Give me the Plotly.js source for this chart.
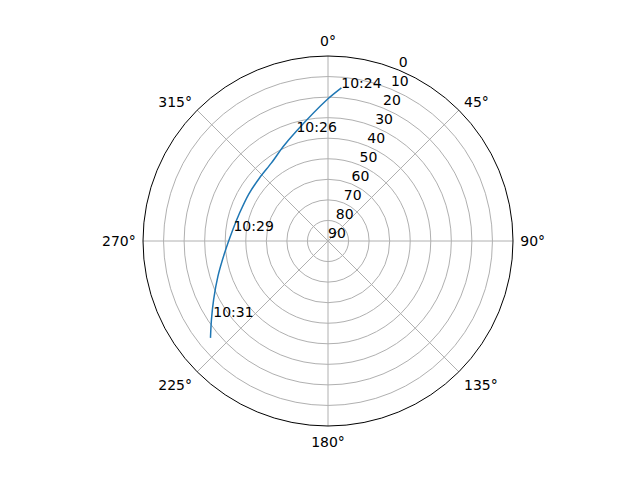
<!DOCTYPE html>
<html>
<head>
<meta charset="utf-8">
<script src="https://cdn.plot.ly/plotly-3.0.1.min.js"></script>
<style>
  html, body { margin: 0; padding: 0; background: #fff; }
  #plot { width: 640px; height: 480px; }
</style>
</head>
<body>
<div id="plot"></div>
<script>
// satellite track: azimuth (deg), elevation (deg)
const trackAz = [5.0, 0, 343.9, 334.5, 324.1, 312.8, 300.5, 287.7, 276.9, 263.5, 252.3, 242.9, 236.0, 230.5];
const trackEl = [15.2, 20.8, 34.4, 39.2, 43.1, 44.7, 45.2, 44.9, 43.4, 39.4, 33.8, 27.5, 21.6, 15.9];

// time marks along the track
const labelTimes = ['10:24', '10:26', '10:29', '10:31'];
const labelAz = [5.1, 343.4, 273.8, 235.3];
const labelEl = [17.2, 36.3, 43.9, 22.1];

const angleTicks = [0, 45, 90, 135, 180, 225, 270, 315];
const radialTicks = [0, 10, 20, 30, 40, 50, 60, 70, 80, 90];
const radialLabelAz = 22.5;   // matplotlib puts the r labels on this spoke

const font = {family: 'DejaVu Sans', size: 14, color: '#000'};

const track = {
    type: 'scatterpolar',
    mode: 'lines',
    theta: trackAz,
    r: trackEl,
    line: {color: '#1f77b4', width: 1.5, shape: 'spline', smoothing: 0.8},
    hoverinfo: 'skip'
};

const marks = {
    type: 'scatterpolar',
    mode: 'text',
    theta: labelAz,
    r: labelEl,
    text: labelTimes,
    textposition: 'top right',
    textfont: font,
    hoverinfo: 'skip'
};

// radial tick labels, anchored bottom-left at the ring like matplotlib does
const rLabels = {
    type: 'scatterpolar',
    mode: 'text',
    theta: radialTicks.map(() => radialLabelAz),
    r: radialTicks,
    text: radialTicks.map(String),
    textposition: 'top right',
    textfont: font,
    cliponaxis: false,
    hoverinfo: 'skip'
};

const layout = {
    width: 640,
    height: 480,
    margin: {l: 0, r: 0, t: 0, b: 0},
    paper_bgcolor: '#fff',
    showlegend: false,
    font: font,
    polar: {
        domain: {x: [143 / 640, 513 / 640], y: [1 - 426 / 480, 1 - 56 / 480]},
        bgcolor: '#fff',
        angularaxis: {
            rotation: 90,
            direction: 'clockwise',
            tickvals: angleTicks,
            ticktext: angleTicks.map(a => a + '°'),
            ticks: 'outside',
            ticklen: 4,
            tickcolor: 'rgba(0,0,0,0)',
            showline: true,
            linecolor: '#000',
            linewidth: 1,
            gridcolor: '#b0b0b0',
            gridwidth: 1,
            tickfont: font
        },
        radialaxis: {
            range: [90, 0],
            tickvals: radialTicks,
            ticks: '',
            showline: false,
            showticklabels: false,
            gridcolor: '#b0b0b0',
            gridwidth: 1
        }
    }
};

Plotly.newPlot('plot', [track, marks, rLabels], layout, {staticPlot: true});
</script>
</body>
</html>
